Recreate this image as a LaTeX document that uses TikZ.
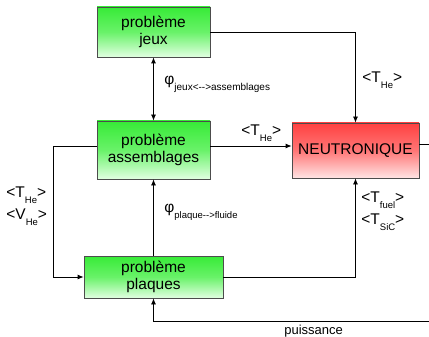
\documentclass[tikz,border=0pt]{standalone}
\usepackage{fontspec}
\setmainfont{Liberation Sans}
\usetikzlibrary{arrows.meta}

\newcommand{\lsub}[1]{\raisebox{-0.4em}{\fontsize{9.5}{9.5}\selectfont #1}}

\begin{document}
\begin{tikzpicture}[x=1pt, y=-1pt, >={Latex[length=6pt,width=5pt]},
                    line width=0.8pt,
                    greenbox/.style={draw=black!70, top color={rgb,255:red,55;green,235;blue,55},
                                     bottom color={rgb,255:red,225;green,255;blue,225},
                                     middle color={rgb,255:red,105;green,242;blue,105},
                                     align=center, font=\fontsize{15.5}{17}\selectfont, inner sep=0pt},
                    redbox/.style={draw=black!70, top color={rgb,255:red,255;green,65;blue,65},
                                   bottom color={rgb,255:red,255;green,228;blue,228},
                                   middle color={rgb,255:red,255;green,118;blue,118},
                                   align=center, font=\fontsize{15.5}{17}\selectfont, inner sep=0pt},
                    lab/.style={anchor=west, inner sep=0pt, font=\fontsize{15.5}{15.5}\selectfont}
                   ]

    \useasboundingbox (0,0) rectangle (429,337);
    \clip (0,0) rectangle (429,337);

    \node [greenbox, minimum width=113, minimum height=50] (jeux) at (153.5,32)
        {problème\\jeux};
    \node [greenbox, minimum width=113, minimum height=58] (assemb) at (153.5,150)
        {problème\\assemblages};
    \node [redbox, minimum width=127, minimum height=55] (neutro) at (355.5,150.5)
        {NEUTRONIQUE};
    \node [greenbox, minimum width=139, minimum height=42] (plaques) at (153.5,277)
        {problème\\plaques};

    \coordinate (loopl) at (53,146);
    \coordinate (loopr) at (433,144);
    \coordinate (loopb) at (433,321);

    \draw [->] (jeux.east) -| (neutro.north);
    \draw [<->] (jeux.south) -- (assemb.north);
    \draw [->] ([yshift=4]assemb.east) -- ([yshift=4.5]neutro.west);
    \draw [->] ([yshift=4]assemb.west) -- (loopl) |- (plaques.west);
    \draw [->] (plaques.north) -- (assemb.south);
    \draw [->] (plaques.east) -| (neutro.south);
    \draw [->] ([yshift=6.5]neutro.east) -- (loopr) -- (loopb) -| (plaques.south);

    \node [lab] (phija) at (164,84)
        {φ\lsub{\fontsize{10}{10}\selectfont jeux<-{}->assemblages}};
    \node [lab] (phipf) at (164,212)
        {φ\lsub{\fontsize{9.5}{10}\selectfont plaque-{}->fluide}};
    \node [lab] (thetop) at (362,80) {<T\lsub{He}>};
    \node [lab] (themid) at (241,133) {<T\lsub{He}>};
    \node [lab] (theleft) at (6,195) {<T\lsub{He}>};
    \node [lab] (vheleft) at (6,217) {<V\lsub{He}>};
    \node [lab] (tfuel) at (361,200) {<T\lsub{fuel}>};
    \node [lab] (tsic) at (361,222) {<T\lsub{SiC}>};
    \node [lab, font=\fontsize{13}{13}\selectfont] (puiss) at (284,331) {puissance};

\end{tikzpicture}
\end{document}
